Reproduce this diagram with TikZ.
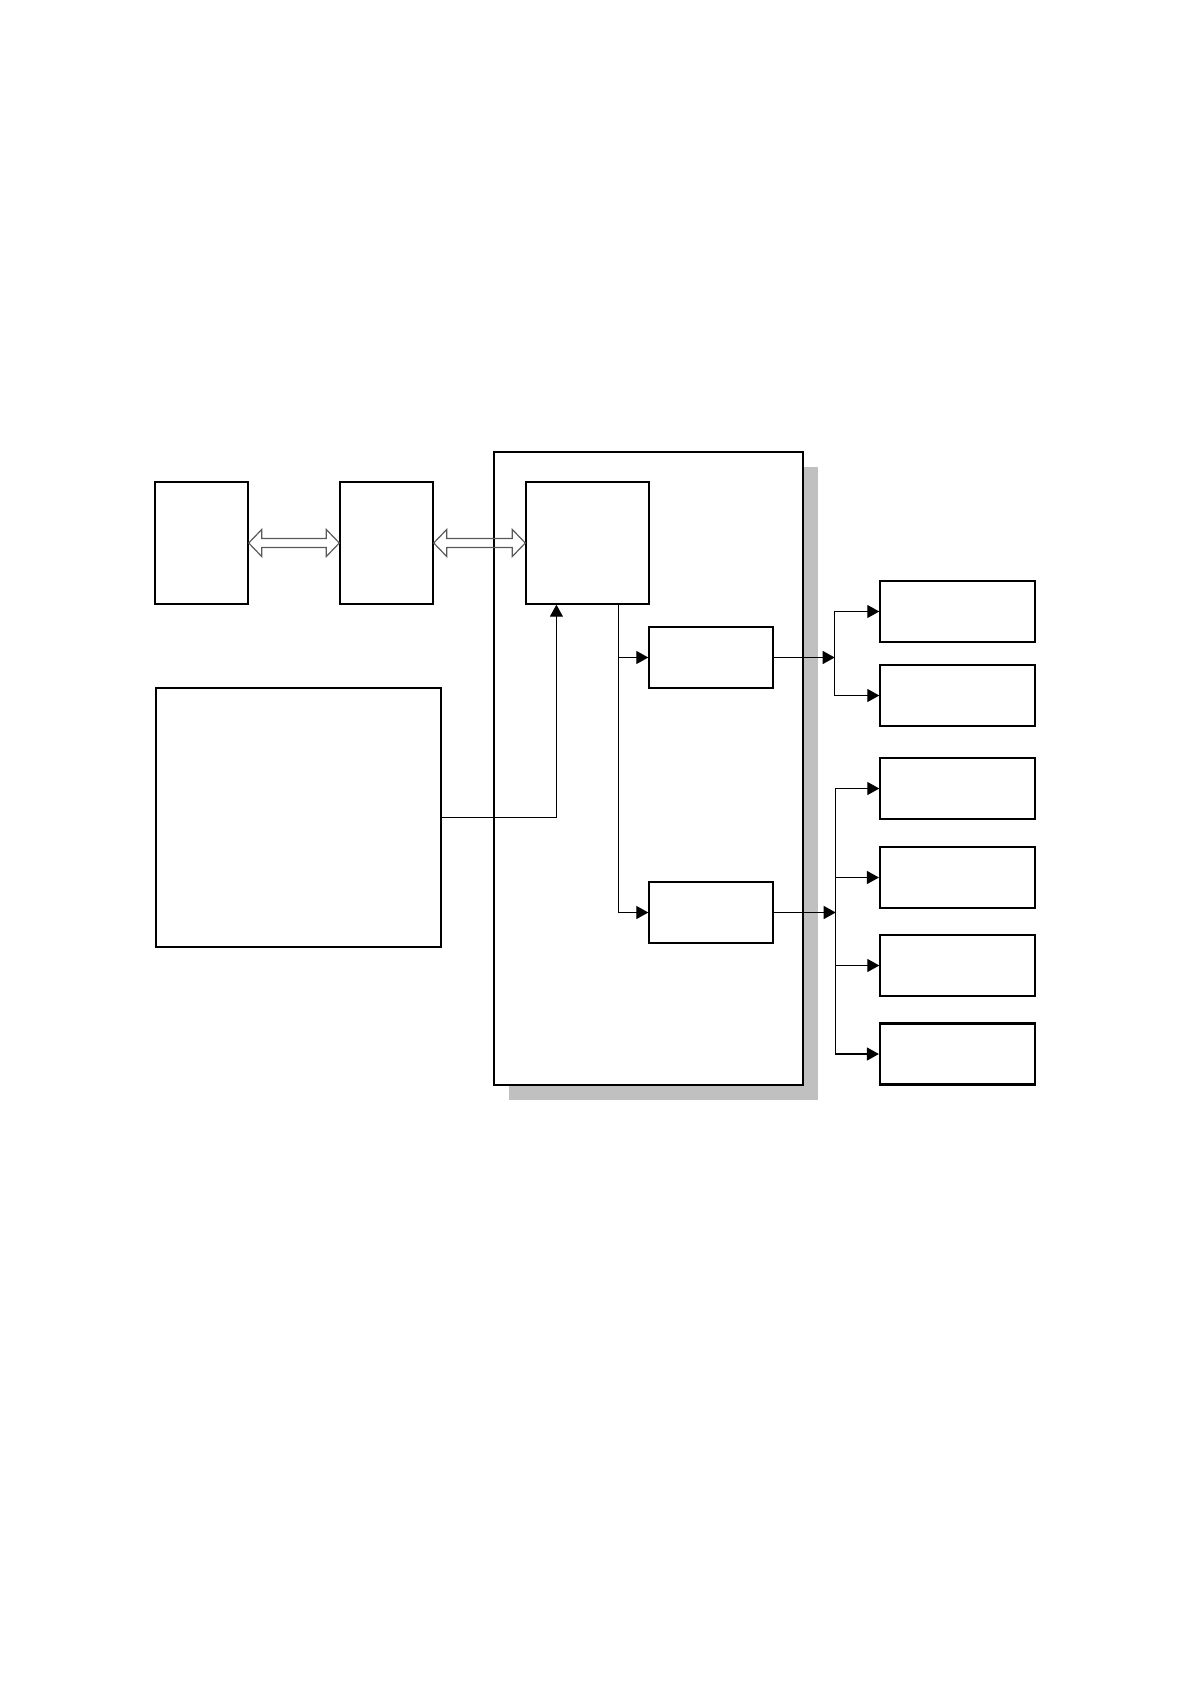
\documentclass[tikz,border=0pt]{standalone}
\usetikzlibrary{arrows.meta,calc,shadows}
\definecolor{shadowgray}{RGB}{192,192,192}
\definecolor{busgray}{RGB}{90,90,90}
% hollow double arrow between two anchors
\newcommand{\busarrow}[2]{\draw[bus] (#1) -- ++(13,-13.5) -- ++(0,9) -- ($(#2)+(-13,-4.5)$) -- ++(0,-9) -- (#2) -- ++(-13,13.5) -- ++(0,-9) -- ($(#1)+(13,4.5)$) -- ++(0,9) -- cycle;}

\begin{document}
\begin{tikzpicture}[x=0.5pt,y=-0.5pt,
  box/.style={draw,line width=0.7pt,inner sep=0pt,fill=white},
  outbox/.style={box,minimum width=77.5pt,minimum height=30.5pt},
  drvbox/.style={box,minimum width=62pt,minimum height=30.5pt},
  wire/.style={line width=0.6pt},
  tip/.style={wire,-{Triangle[length=6pt,width=6.5pt]}},
  bus/.style={draw=busgray,line width=0.6pt}]
  \useasboundingbox (0,0) rectangle (1190,1684);
  % board
  \node[draw,line width=1.4pt,fill=white,inner sep=0pt,minimum width=154.5pt,minimum height=316.5pt,
    drop shadow={opacity=1,fill=shadowgray,shadow xshift=7.5pt,shadow yshift=-7.5pt}] (board) at (648.5,768.5) {};
  % blocks
  \node[box,minimum width=46.5pt,minimum height=61pt] (pc) at (201.5,543) {};
  \node[box,minimum width=46.5pt,minimum height=61pt] (link) at (386.5,543) {};
  \node[box,minimum width=61.5pt,minimum height=61pt] (mcu) at (587.5,543) {};
  \node[box,minimum width=142.5pt,minimum height=129.5pt] (sensor) at (298.5,817.5) {};
  \node[drvbox] (drvA) at (711,657.5) {};
  \node[drvbox] (drvB) at (711,912.5) {};
  \foreach \name/\y in {outA/611.5,outB/695.5,outC/788.5,outE/965.5}
    \node[outbox] (\name) at (957.5,\y) {};
  \foreach \name/\y in {outD/877.5,outF/1054}
    \node[outbox,line width=1.1pt] (\name) at (957.5,\y) {};
  % buses
  \busarrow{pc.east}{link.west}
  \busarrow{link.east}{mcu.west}
  % signals
  \draw[tip] (sensor.east) -| ($(mcu.south west)!0.25!(mcu.south east)$);
  \coordinate (split) at ($(mcu.south west)!0.75!(mcu.south east)$);
  \draw[tip] (split) |- (drvB.west);
  \draw[tip] (split |- drvA.west) -- (drvA.west);
  \coordinate (jA) at ($(drvA.east)+(61,0)$);
  \coordinate (jB) at ($(drvB.east)+(62,0)$);
  \draw[tip] (drvA.east) -- (jA);
  \draw[tip] (drvB.east) -- (jB);
  \foreach \o in {outA,outB}
    \draw[tip] (jA) |- (\o.west);
  \foreach \o in {outC,outD,outE,outF}
    \draw[tip] (jB) |- (\o.west);
\end{tikzpicture}
\end{document}
